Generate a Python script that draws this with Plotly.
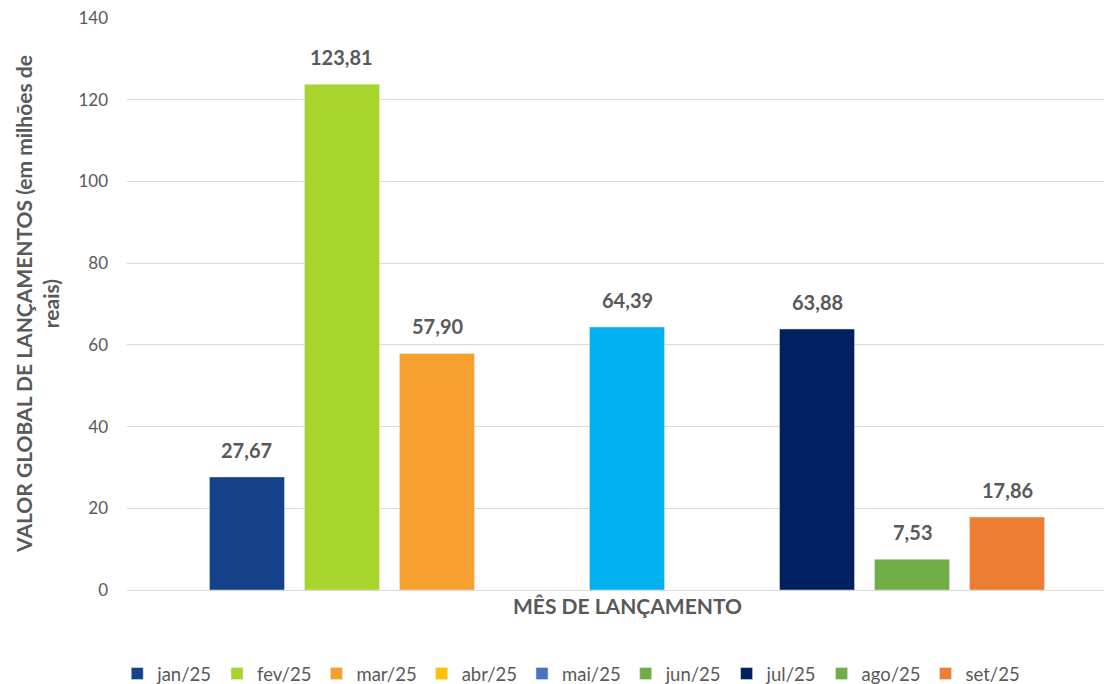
import plotly.graph_objects as go

# dados
meses = ['jan/25', 'fev/25', 'mar/25', 'abr/25', 'mai/25', 'jun/25', 'jul/25', 'ago/25', 'set/25']
valores = [27.67, 123.81, 57.90, None, 64.39, None, 63.88, 7.53, 17.86]
cores_legenda = ['#13428A', '#A8D52B', '#F7A030', '#FFC000', '#4472C4', '#70AD47', '#002060', '#70AD47', '#ED7D31']
cores_barra = ['#13428A', '#A8D52B', '#F7A030', '#FFC000', '#00B0F0', '#70AD47', '#002060', '#70AD47', '#ED7D31']
y_ticks = [0, 20, 40, 60, 80, 100, 120, 140]

FONTE = "Lato"
CINZA = "#595959"

fig = go.Figure()
for mes, v, cl, cb in zip(meses, valores, cores_legenda, cores_barra):
    if cl != cb:
        # barra com cor diferente da legenda (como no Excel)
        fig.add_trace(go.Bar(x=[mes], y=[v], name=mes, marker_color=cb,
                             showlegend=False, legendgroup=mes))
        fig.add_trace(go.Bar(x=[None], y=[None], name=mes, marker_color=cl,
                             legendgroup=mes))
    else:
        fig.add_trace(go.Bar(x=[mes], y=[v], name=mes, marker_color=cb))

for mes, v in zip(meses, valores):
    if v is None:
        continue
    fig.add_annotation(x=mes, y=v, text=f"{v:.2f}".replace(".", ","),
                       showarrow=False, yanchor="bottom", yshift=13,
                       font=dict(family=FONTE, size=20, color=CINZA, weight="bold"))

fig.add_annotation(text="VALOR GLOBAL DE LANÇAMENTOS (em milhões de<br>reais)",
                   xref="paper", yref="paper", x=-90 / 985, y=0.5,
                   xanchor="center", yanchor="middle", textangle=-90,
                   showarrow=False,
                   font=dict(family=FONTE, size=21, color=CINZA, weight="bold"))
fig.add_annotation(text="MÊS DE LANÇAMENTO", x="mai/25", yref="paper", y=-0.002,
                   yanchor="top", showarrow=False,
                   font=dict(family=FONTE, size=21, color=CINZA, weight="bold"))

fig.update_layout(
    width=1112, height=692,
    margin=dict(l=119, r=8, t=10, b=109),
    paper_bgcolor="white", plot_bgcolor="white",
    barmode="overlay", bargap=0.21,
    font=dict(family=FONTE, size=16, color=CINZA),
    legend=dict(orientation="h", x=0.451, xanchor="center", y=-0.1117, yanchor="top",
                font=dict(size=18.5, color=CINZA), itemwidth=30,
                traceorder="normal"),
)
fig.update_xaxes(type="category", categoryorder="array", categoryarray=meses,
                 range=[-1.263, 9.105], showticklabels=False, showgrid=False,
                 showline=False, zeroline=False, automargin=False)
fig.update_yaxes(range=[0, 140], tickvals=y_ticks, showgrid=True, gridcolor="#D9D9D9",
                 gridwidth=1, zeroline=True, zerolinecolor="#D9D9D9", zerolinewidth=1,
                 ticks="", ticklabelstandoff=18, tickfont=dict(size=17, color=CINZA),
                 ticklabeloverflow="allow", automargin=False)

fig.write_html("out.html")
